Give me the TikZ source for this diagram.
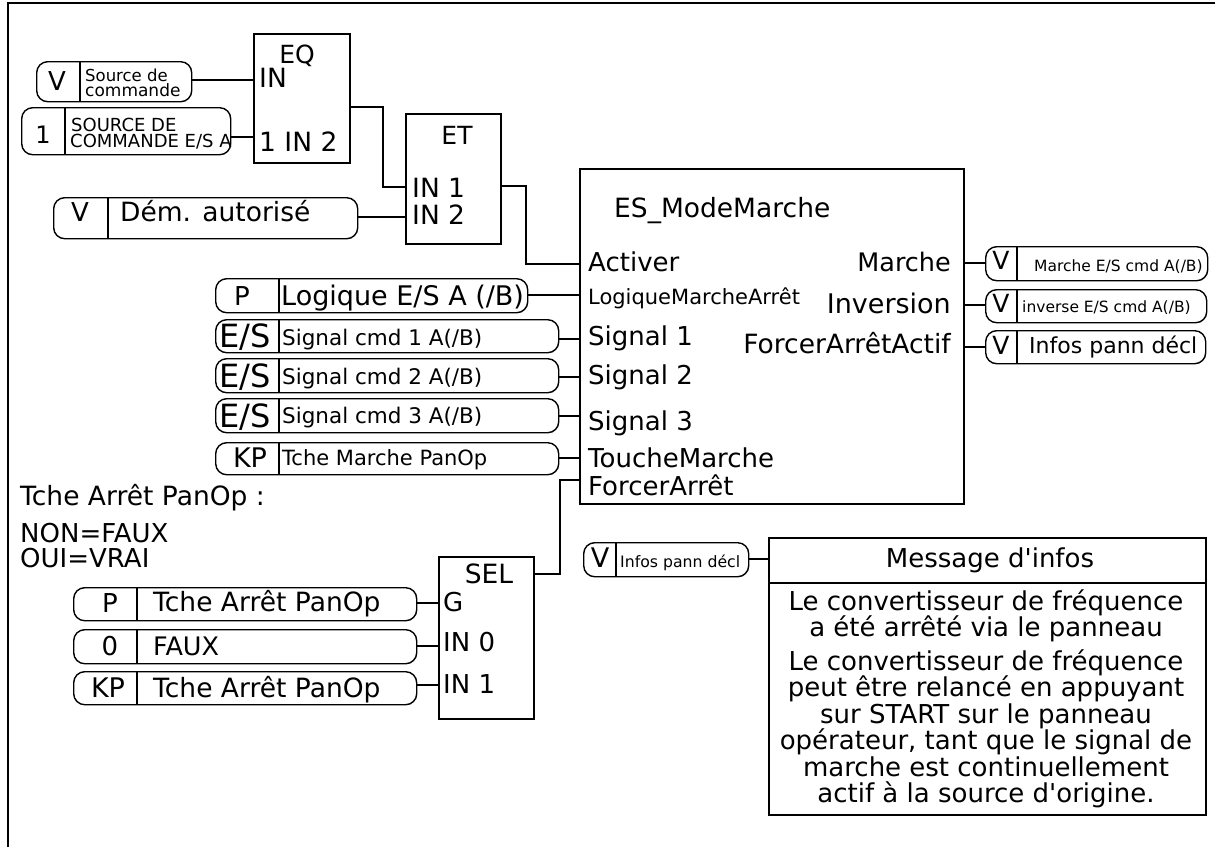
\documentclass[tikz,border=0pt]{standalone}
\usepackage{fontspec}
\setmainfont{DejaVu Sans}[Ligatures=TeXOff]
\usepackage{tikz}

\newcommand{\fsz}[1]{\fontsize{#1}{#1}\selectfont}
% io pill: name, left, divider, right, top, bottom
\newcommand{\iopill}[6]{%
  \node[pill, anchor=north west, minimum width=#4pt-#2pt, minimum height=#6pt-#5pt] (#1) at (#2,#5) {};
  \draw[pillsep] (#3,#5) -- (#3,#6);}

\begin{document}
\begin{tikzpicture}[
    x=1pt, y=-1pt,
    block/.style={draw, line width=2pt, inner sep=0pt, anchor=north west},
    pill/.style={draw, rounded corners=11pt, line width=1.4pt, inner sep=0pt},
    pillsep/.style={line width=1.1pt},
    wire/.style={line width=1.8pt},
    txt/.style={inner sep=0pt, anchor=base west},
    ctxt/.style={inner sep=0pt, anchor=base},
    rtxt/.style={inner sep=0pt, anchor=base east}
]
\useasboundingbox (0,0) rectangle (1215,847);
\draw[line width=1.5pt] (8,847) -- (8,3) -- (1215,3);

% function blocks
\node[block, minimum width=96pt, minimum height=129pt] (eq) at (253,33) {};
\node[ctxt, font=\fsz{25}] (eqT) at (297,63) {EQ};
\node[txt, font=\fsz{26.5}] (eqA) at (259,87) {IN};
\node[txt, font=\fsz{26.5}] (eqB) at (259,151) {1 IN 2};

\node[block, minimum width=95pt, minimum height=130pt] (et) at (405,113) {};
\node[ctxt, font=\fsz{25}] (etT) at (457,144) {ET};
\node[txt, font=\fsz{26.5}] (etA) at (412,197) {IN 1};
\node[txt, font=\fsz{26.5}] (etB) at (412,224) {IN 2};

\node[block, line width=2.4pt, minimum width=384pt, minimum height=335pt] (run) at (579,168) {};
\node[txt, font=\fsz{26.5}] (runT) at (614,217) {ES\_ModeMarche};
\node[txt, font=\fsz{26}] (runEn) at (588,271) {Activer};
\node[txt, font=\fsz{21}] (runLog) at (588,304) {LogiqueMarcheArrêt};
\node[txt, font=\fsz{26}] (runS1) at (588,345) {Signal 1};
\node[txt, font=\fsz{26}] (runS2) at (588,384) {Signal 2};
\node[txt, font=\fsz{26}] (runS3) at (588,430) {Signal 3};
\node[txt, font=\fsz{26}] (runKey) at (588,467) {ToucheMarche};
\node[txt, font=\fsz{26}] (runStop) at (588,495) {ForcerArrêt};
\node[rtxt, font=\fsz{25.5}] (runQ) at (951,271) {Marche};
\node[rtxt, font=\fsz{27}] (runInv) at (951,313) {Inversion};
\node[rtxt, font=\fsz{26.5}] (runFlt) at (951,353) {ForcerArrêtActif};

\node[block, minimum width=95pt, minimum height=162pt] (sel) at (438,556) {};
\node[ctxt, font=\fsz{26.5}] (selT) at (489,583) {SEL};
\node[txt, font=\fsz{26}] (selG) at (443,611) {G};
\node[txt, font=\fsz{26}] (selA) at (443,651) {IN 0};
\node[txt, font=\fsz{26}] (selB) at (443,693) {IN 1};

\node[block, line width=1.5pt, minimum width=437pt, minimum height=277pt] (msg) at (768,537) {};
\draw[line width=1.8pt] (msg.west |- 0,583) -- (msg.east |- 0,583);
\node[ctxt, font=\fsz{26}] (msgT) at (990,567) {Message d'infos};
\node[ctxt] (msgA) at (986,610)
  {\parbox[t]{430pt}{\centering\fontsize{26}{26.5}\selectfont
   Le convertisseur de fréquence\\a été arrêté via le panneau}};
\node[ctxt] (msgB) at (986,670)
  {\parbox[t]{430pt}{\centering\fontsize{26}{26.5}\selectfont
   Le convertisseur de fréquence\\peut être relancé en appuyant\\sur START sur le panneau\\opérateur, tant que le signal de\\marche est continuellement\\actif à la source d'origine.}};

% inputs and outputs
\iopill{srcV}{36}{80}{191}{61}{101}
\node[ctxt, font=\fsz{26}] at (57,90) {V};
\node[txt, font=\fsz{16.5}] at (85,81) {Source de};
\node[txt, font=\fsz{17}] at (85,96) {commande};

\iopill{srcIO}{21}{65}{230}{107}{154}
\node[ctxt, font=\fsz{24}] at (43,143) {1};
\node[txt, font=\fsz{18}] at (71,131) {SOURCE DE};
\node[txt, font=\fsz{18}] at (70,147) {COMMANDE E/S A};

\iopill{demV}{53}{108}{357}{197}{238}
\node[ctxt, font=\fsz{26}] at (80,221) {V};
\node[txt, font=\fsz{26.5}] at (120,221) {Dém. autorisé};

\iopill{logP}{215}{279}{527}{278}{312}
\node[ctxt, font=\fsz{26}] at (242,305) {P};
\node[txt, font=\fsz{27}] at (281,305) {Logique E/S A (/B)};

\iopill{sigA}{215}{279}{558}{319}{352}
\node[ctxt, font=\fsz{32}] at (245,347) {E/S};
\node[txt, font=\fsz{21.5}] at (282,345) {Signal cmd 1 A(/B)};

\iopill{sigB}{215}{279}{558}{358}{392}
\node[ctxt, font=\fsz{32}] at (245,387) {E/S};
\node[txt, font=\fsz{21.5}] at (282,384) {Signal cmd 2 A(/B)};

\iopill{sigC}{215}{279}{558}{398}{432}
\node[ctxt, font=\fsz{32}] at (245,427) {E/S};
\node[txt, font=\fsz{21.5}] at (282,423) {Signal cmd 3 A(/B)};

\iopill{keyRun}{215}{279}{558}{442}{474}
\node[ctxt, font=\fsz{27}] at (250,467) {KP};
\node[txt, font=\fsz{21}] at (282,465) {Tche Marche PanOp};

\iopill{outRun}{985}{1017}{1207}{246}{280}
\node[ctxt, font=\fsz{25}] at (1001,269) {V};
\node[txt, font=\fsz{15.5}] at (1034,271) {Marche E/S cmd A(/B)};

\iopill{outInv}{985}{1017}{1206}{289}{322}
\node[ctxt, font=\fsz{25}] at (1001,312) {V};
\node[txt, font=\fsz{15.5}] at (1022,312) {inverse E/S cmd A(/B)};

\iopill{outFlt}{985}{1017}{1205}{330}{363}
\node[ctxt, font=\fsz{25}] at (1001,354) {V};
\node[txt, font=\fsz{22}] at (1029,353) {Infos pann décl};

\node[txt, font=\fsz{26.5}] (note) at (20,505) {Tche Arrêt PanOp :};
\node[txt, font=\fsz{26}] (noteA) at (20,542) {NON=FAUX};
\node[txt, font=\fsz{26}] (noteB) at (20,567) {OUI=VRAI};

\iopill{selP}{73}{137}{416}{587}{620}
\node[ctxt, font=\fsz{26}] at (110,612) {P};
\node[txt, font=\fsz{26.5}] at (153,611) {Tche Arrêt PanOp};

\iopill{selF}{73}{137}{416}{629}{663}
\node[ctxt, font=\fsz{26}] at (110,655) {0};
\node[txt, font=\fsz{25.5}] at (153,655) {FAUX};

\iopill{selKP}{73}{137}{416}{671}{704}
\node[ctxt, font=\fsz{27}] at (108,697) {KP};
\node[txt, font=\fsz{26.5}] at (153,697) {Tche Arrêt PanOp};

\iopill{msgV}{583}{616}{748}{542}{576}
\node[ctxt, font=\fsz{27}] at (600,567) {V};
\node[txt, font=\fsz{15.7}] at (620,567) {Infos pann décl};

% pins
\coordinate (eq-in1) at (eq.west |- 0,80);
\coordinate (eq-in2) at (eq.west |- 0,137);
\coordinate (eq-out) at (eq.east |- 0,107);
\coordinate (et-in1) at (et.west |- 0,187);
\coordinate (et-in2) at (et.west |- 0,217);
\coordinate (et-out) at (et.east |- 0,186);
\coordinate (run-en) at (run.west |- 0,264);
\coordinate (run-log) at (run.west |- 0,295);
\coordinate (run-s1) at (run.west |- 0,339);
\coordinate (run-s2) at (run.west |- 0,377);
\coordinate (run-s3) at (run.west |- 0,416);
\coordinate (run-key) at (run.west |- 0,458);
\coordinate (run-stop) at (run.west |- 0,480);
\coordinate (run-q) at (run.east |- 0,263);
\coordinate (run-inv) at (run.east |- 0,305);
\coordinate (run-flt) at (run.east |- 0,347);
\coordinate (sel-g) at (sel.west |- 0,603);
\coordinate (sel-in0) at (sel.west |- 0,646);
\coordinate (sel-in1) at (sel.west |- 0,685);
\coordinate (sel-out) at (sel.east |- 0,574);
\coordinate (msg-in) at (msg.west |- 0,559);

% wires
\draw[wire] (srcV.east |- eq-in1) -- (eq-in1);
\draw[wire] (srcIO.east |- eq-in2) -- (eq-in2);
\draw[wire] (eq-out) -- ++(32,0) |- (et-in1);
\draw[wire] (demV.east |- et-in2) -- (et-in2);
\draw[wire] (et-out) -- ++(24,0) |- (run-en);
\draw[wire] (logP.east |- run-log) -- (run-log);
\draw[wire] (sigA.east |- run-s1) -- (run-s1);
\draw[wire] (sigB.east |- run-s2) -- (run-s2);
\draw[wire] (sigC.east |- run-s3) -- (run-s3);
\draw[wire] (keyRun.east |- run-key) -- (run-key);
\draw[wire] (sel-out) -- ++(25,0) |- (run-stop);
\draw[wire] (run-q) -- (outRun.west |- run-q);
\draw[wire] (run-inv) -- (outInv.west |- run-inv);
\draw[wire] (run-flt) -- (outFlt.west |- run-flt);
\draw[wire] (selP.east |- sel-g) -- (sel-g);
\draw[wire] (selF.east |- sel-in0) -- (sel-in0);
\draw[wire] (selKP.east |- sel-in1) -- (sel-in1);
\draw[wire] (msgV.east |- msg-in) -- (msg-in);

\end{tikzpicture}
\end{document}
